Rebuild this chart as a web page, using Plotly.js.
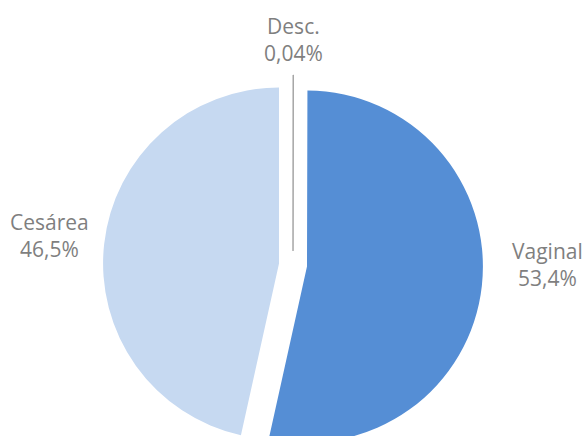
<!DOCTYPE html>
<html>
<head>
<meta charset="utf-8">
<script src="https://cdn.plot.ly/plotly-3.0.1.min.js"></script>
<style>
html, body { margin: 0; padding: 0; overflow: hidden; background: #fff; width: 586px; height: 436px; }
#chart { width: 586px; height: 460px; }
</style>
</head>
<body>
<div id="chart"></div>
<script>
const categories = ["Desc.", "Vaginal", "Cesárea"];
const shares = [0.04, 53.4, 46.5];
const shareLabels = shares.map(v => String(v).replace('.', ',') + '%');
const colors = ["#a6a6a6", "#558ed5", "#c6d9f1"];

// label placement (page pixels), layout only
const W = 586, H = 460, MT = 75, MB = 5;
const labelPx = [[293, 39.5], [547, 264.5], [49.5, 235.5]];

const trace = {
  type: 'pie',
  labels: categories,
  values: shares,
  text: shareLabels,
  textinfo: 'none',
  hoverinfo: 'label+text',
  sort: false,
  direction: 'clockwise',
  rotation: 0,
  pull: 0.08,
  marker: { colors: colors, line: { color: ["#a6a6a6", "#ffffff", "#ffffff"], width: [1, 0, 0] } }
};

const plotH = H - MT - MB;
const annotations = categories.map((c, i) => ({
  xref: 'paper', yref: 'paper',
  x: labelPx[i][0] / W,
  y: (H - MB - labelPx[i][1]) / plotH,
  xanchor: 'center', yanchor: 'middle',
  align: 'center',
  showarrow: false,
  text: c + '<br>' + shareLabels[i],
  font: { family: 'Open Sans, sans-serif', size: 21, color: '#7f7f7f' }
}));

const layout = {
  width: W,
  height: H,
  margin: { l: 0, r: 0, t: MT, b: MB },
  showlegend: false,
  paper_bgcolor: '#ffffff',
  plot_bgcolor: '#ffffff',
  annotations: annotations
};

Plotly.newPlot('chart', [trace], layout, { displayModeBar: false, staticPlot: true });
</script>
</body>
</html>
